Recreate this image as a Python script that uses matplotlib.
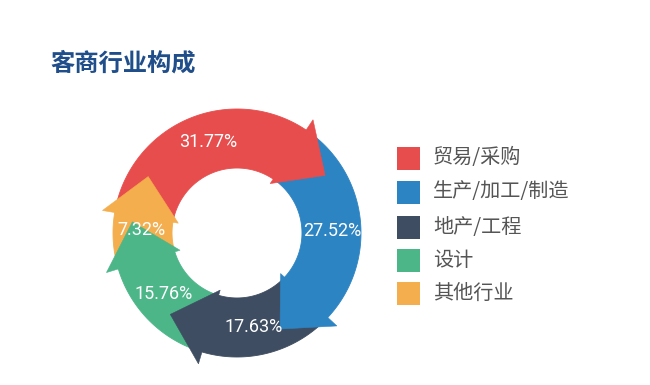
import numpy as np
import matplotlib.pyplot as plt
from matplotlib.patches import Polygon

plt.rcParams['font.family'] = ['Noto Sans CJK SC', 'DejaVu Sans']

# data
categories = ['贸易/采购', '生产/加工/制造', '地产/工程', '设计', '其他行业']
shares = [31.77, 27.52, 17.63, 15.76, 7.32]
colors = ['#E84D4D', '#2D84C3', '#3E4D61', '#4CB688', '#F4AE4E']

# ring geometry (outer radius = 1)
r_out, r_in = 1.0, 0.524
barb_in, barb_out = 0.48, 1.10
head_len = 0.31
start = 169.0


def pt(r, deg):
    a = np.radians(deg)
    return np.array([r * np.cos(a), r * np.sin(a)])


fig = plt.figure(figsize=(6.5, 3.85), dpi=100)
fig.patch.set_facecolor('white')
ax = fig.add_axes([97 / 650, 12 / 385, 280 / 650, 280 / 385])
ax.set_xlim(-1.129, 1.129)
ax.set_ylim(-1.129, 1.129)
ax.set_aspect('equal')
ax.axis('off')

spans = np.array(shares) / sum(shares) * 360.0
edges = start - np.concatenate([[0], np.cumsum(spans)])

for i, (name, val, col) in enumerate(zip(categories, shares, colors)):
    a0, a1 = edges[i], edges[i + 1]
    th = np.linspace(a0, a1, 80)
    outer = [pt(r_out, t) for t in th]
    inner = [pt(r_in, t) for t in th[::-1]]
    ax.add_patch(Polygon(outer + inner, closed=True, fc=col, ec=col, lw=0.6, zorder=1))

    # arrow head at the clockwise end
    mid = pt((barb_in + barb_out) / 2, a1)
    tang = np.array([np.sin(np.radians(a1)), -np.cos(np.radians(a1))])
    head = [pt(barb_in, a1 + 1.5), pt(barb_out, a1 + 1.5), mid + head_len * tang]
    ax.add_patch(Polygon(head, closed=True, fc=col, ec=col, lw=0.4, zorder=2))

    lab = pt(0.77, (a0 + a1) / 2 - 4)
    ax.text(lab[0], lab[1], f'{val:.2f}%', color='white', fontsize=13,
            family=['Roboto', 'DejaVu Sans'],
            ha='center', va='center', zorder=3)

fig.text(50 / 650, 1 - 64 / 385, '客商行业构成', fontsize=17.5, fontweight='bold',
         color='#1F4E8A', ha='left', va='center')

# legend
row_y = [158, 192, 227, 260, 293]
for y, name, col in zip(row_y, categories, colors):
    fig.patches.append(plt.Rectangle((397 / 650, 1 - (y + 11.5) / 385), 23 / 650, 23 / 385,
                                     transform=fig.transFigure, fc=col, ec='none'))
    fig.text(433 / 650, 1 - y / 385, name, fontsize=14.5, color='#555555',
             ha='left', va='center')

fig.savefig('out.png', dpi=100, facecolor='white')
